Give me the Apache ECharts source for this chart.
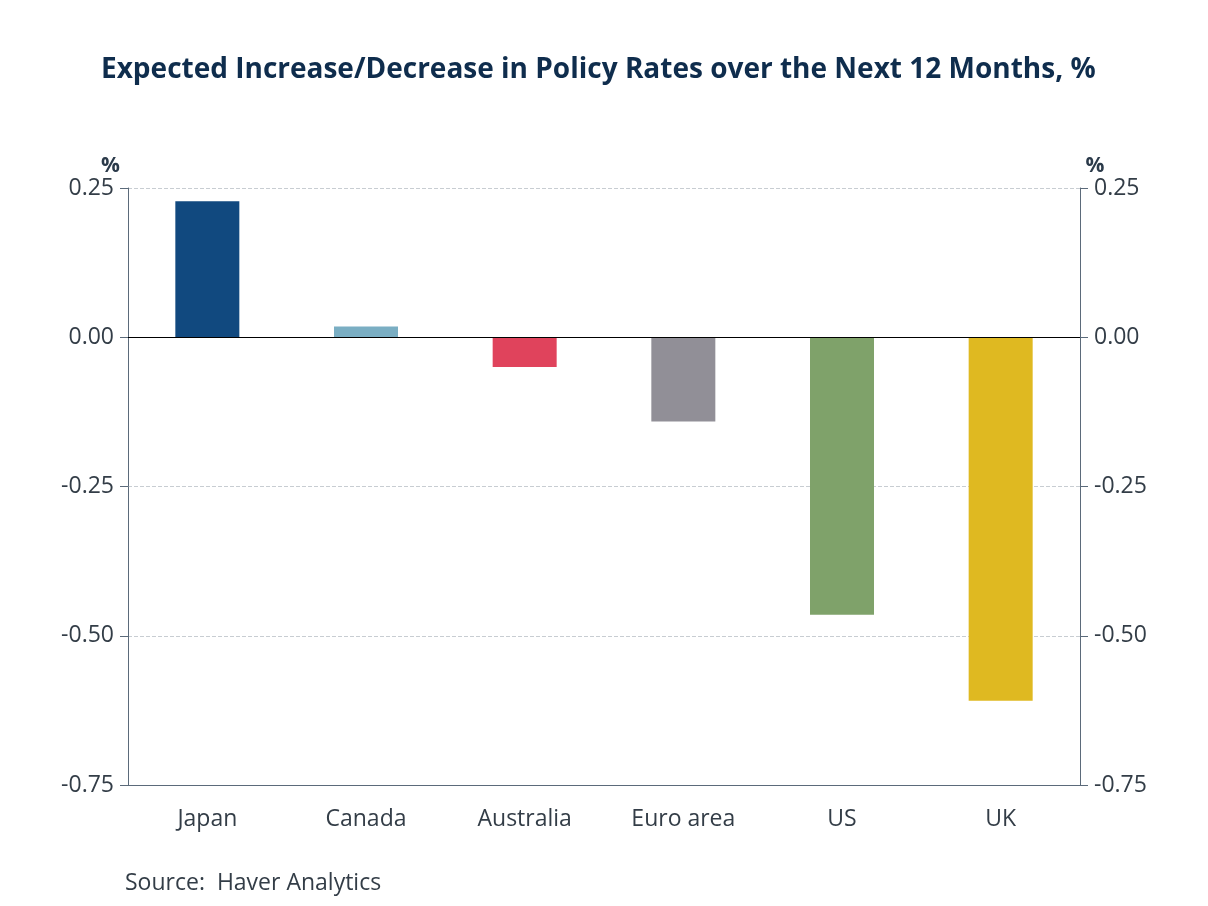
<!DOCTYPE html>
<html><head><meta charset="utf-8">
<script src="https://cdn.jsdelivr.net/npm/echarts@6/dist/echarts.min.js"></script>
<style>html,body{margin:0;padding:0;background:#fff}#c{width:1208px;height:906px}</style>
</head><body><div id="c"></div>
<script>
const categories = ['Japan', 'Canada', 'Australia', 'Euro area', 'US', 'UK'];
const values = [0.228, 0.018, -0.050, -0.141, -0.465, -0.609];
const colors = ['#11497f', '#7aaec3', '#e0435c', '#918f97', '#7fa26a', '#dfb921'];
const yTicks = [-0.75, -0.5, -0.25, 0, 0.25];

const chart = echarts.init(document.getElementById('c'));
const font = "'Segoe UI', 'Open Sans', 'Noto Sans', sans-serif";
const yAxisCommon = {
  type: 'value', min: -0.75, max: 0.25, interval: 0.25,
  name: '%', nameGap: 10,
  nameTextStyle: { color: '#2b3a4a', fontSize: 21, fontWeight: 'bold', fontFamily: font },
  axisLine: { show: true, lineStyle: { color: '#5b6a7a', width: 1 } },
  axisTick: { show: true, length: 8, lineStyle: { color: '#5b6a7a' } },
  axisLabel: { color: '#333d47', fontSize: 23, fontFamily: font, margin: 14,
    formatter: v => v.toFixed(2) },
};
chart.setOption({
  animation: false,
  title: {
    text: 'Expected Increase/Decrease in Policy Rates over the Next 12 Months, %',
    left: 96, top: 51,
    textStyle: { color: '#0f2d4d', fontSize: 28, fontWeight: 'bold', fontFamily: font }
  },
  graphic: [{
    type: 'text', left: 125, top: 872,
    style: { text: 'Source:  Haver Analytics', fill: '#333d47', fontSize: 23, fontFamily: font }
  }],
  grid: { left: 128, right: 128, top: 188, bottom: 121, containLabel: false },
  xAxis: {
    type: 'category', data: categories,
    axisLine: { show: true, onZero: false, lineStyle: { color: '#5b6a7a' } },
    axisTick: { show: false },
    axisLabel: { color: '#333d47', fontSize: 23, fontFamily: font, margin: 23 },
  },
  yAxis: [
    Object.assign({}, yAxisCommon, { position: 'left', nameLocation: 'end',
      nameTextStyle: Object.assign({}, yAxisCommon.nameTextStyle, { padding: [0, 0, 0, -35] }),
      splitLine: { show: true, lineStyle: { color: '#c8cdd2', type: 'dashed', width: 1 } } }),
    Object.assign({}, yAxisCommon, { position: 'right', nameLocation: 'end',
      nameTextStyle: Object.assign({}, yAxisCommon.nameTextStyle, { padding: [0, 0, 0, 30] }),
      splitLine: { show: false } })
  ],
  series: [{
    type: 'bar', data: values.map((v, i) => ({ value: v, itemStyle: { color: colors[i] } })),
    barWidth: 64,
    markLine: {
      silent: true, symbol: 'none', label: { show: false },
      lineStyle: { color: '#000', width: 1.2, type: 'solid' },
      data: [{ yAxis: 0 }]
    }
  }]
});
</script></body></html>
